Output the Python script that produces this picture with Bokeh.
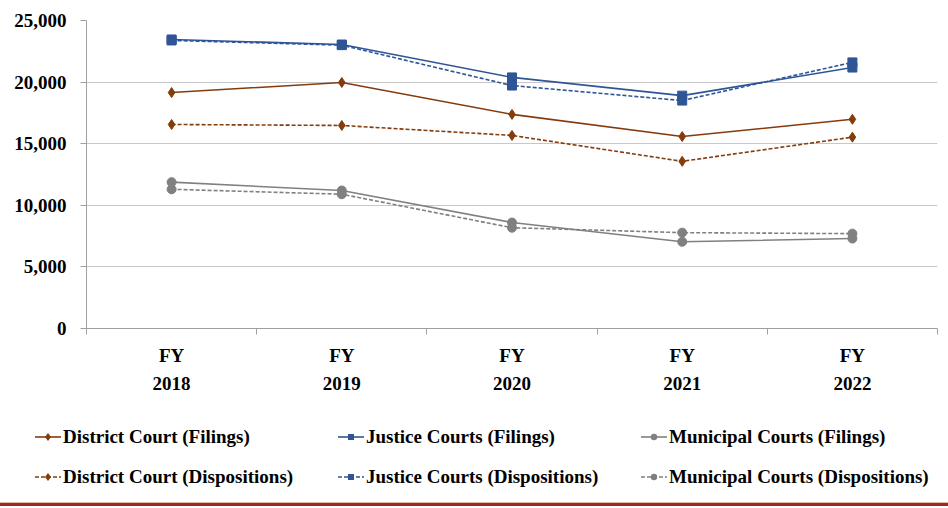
from bokeh.plotting import figure
from bokeh.models import FixedTicker, NumeralTickFormatter, Div
from bokeh.layouts import column
from bokeh.embed import file_html
from bokeh.resources import INLINE

years = ["FY\n2018", "FY\n2019", "FY\n2020", "FY\n2021", "FY\n2022"]
district_filings = [19150, 19970, 17380, 15580, 16980]
district_dispositions = [16560, 16480, 15670, 13570, 15530]
justice_filings = [23460, 23050, 20380, 18900, 21180]
justice_dispositions = [23380, 23000, 19720, 18500, 21600]
municipal_filings = [11880, 11200, 8600, 7040, 7300]
municipal_dispositions = [11300, 10900, 8180, 7780, 7700]
y_ticks = [0, 5000, 10000, 15000, 20000, 25000]

FONT = "Liberation Serif"
BROWN = "#843c0c"
BLUE = "#2f5597"
GRAY = "#808080"

x = [i + 0.5 for i in range(len(years))]

p = figure(width=948, height=410, x_range=(0, len(years)), y_range=(0, 25000),
           output_backend="svg", toolbar_location=None,
           min_border_left=86, min_border_right=11, min_border_top=20, min_border_bottom=82)
p.outline_line_color = None
p.xgrid.grid_line_color = None
p.ygrid.grid_line_color = "#c8c8c8"
p.ygrid.grid_line_width = 1

p.yaxis.ticker = FixedTicker(ticks=y_ticks)
p.yaxis.formatter = NumeralTickFormatter(format="0,0")
p.yaxis.axis_line_color = "#a0a0a0"
p.yaxis.major_tick_line_color = "#a0a0a0"
p.yaxis.major_tick_out = 6
p.yaxis.major_tick_in = 0
p.yaxis.minor_tick_line_color = None
p.yaxis.major_label_text_font = FONT
p.yaxis.major_label_text_font_style = "bold"
p.yaxis.major_label_text_font_size = "19px"
p.yaxis.major_label_text_color = "#000000"
p.yaxis.major_label_standoff = 14

p.xaxis.ticker = FixedTicker(ticks=x, minor_ticks=[float(i) for i in range(len(years) + 1)])
p.xaxis.major_label_overrides = {xv: lab for xv, lab in zip(x, years)}
p.xaxis.axis_line_color = "#a0a0a0"
p.xaxis.major_tick_line_color = None
p.xaxis.minor_tick_line_color = "#a0a0a0"
p.xaxis.minor_tick_out = 6
p.xaxis.minor_tick_in = 0
p.xaxis.major_label_text_font = FONT
p.xaxis.major_label_text_font_style = "bold"
p.xaxis.major_label_text_font_size = "19px"
p.xaxis.major_label_text_color = "#000000"
p.xaxis.major_label_text_line_height = 1.35
p.xaxis.major_label_standoff = 10

series = [
    ("District Court (Filings)", district_filings, BROWN, "diamond", "solid", 10),
    ("Justice Courts (Filings)", justice_filings, BLUE, "square", "solid", 9),
    ("Municipal Courts (Filings)", municipal_filings, GRAY, "circle", "solid", 9),
    ("District Court (Dispositions)", district_dispositions, BROWN, "diamond", "4 2", 10),
    ("Justice Courts (Dispositions)", justice_dispositions, BLUE, "square", "4 2", 9),
    ("Municipal Courts (Dispositions)", municipal_dispositions, GRAY, "circle", "4 2", 9),
]

for label, vals, color, marker, dash, size in series:
    p.line(x, vals, line_color=color, line_width=1.6, line_dash=dash)
    p.scatter(x, vals, marker=marker, size=size, fill_color=color, line_color=color)


def key_svg(color, marker, dash):
    da = "" if dash == "solid" else f' stroke-dasharray="{dash}"'
    line = f'<line x1="0" y1="10" x2="26" y2="10" stroke="{color}" stroke-width="1.6"{da}/>'
    if marker == "diamond":
        m = f'<polygon points="13,6 16,10 13,14 10,10" fill="{color}"/>'
    elif marker == "square":
        m = f'<rect x="10" y="7" width="6" height="6" fill="{color}"/>'
    else:
        m = f'<circle cx="13" cy="10" r="3.2" fill="{color}"/>'
    return f'<svg width="26" height="20" style="vertical-align:middle">{line}{m}</svg>'


rows_html = []
for r in range(2):
    cells = []
    for label, vals, color, marker, dash, size in series[r * 3:(r + 1) * 3]:
        cells.append(
            f'<span style="display:inline-block;width:303px;white-space:nowrap">'
            f'{key_svg(color, marker, dash)}<span style="vertical-align:middle;margin-left:2px">{label}</span></span>'
        )
    rows_html.append(
        f'<div style="position:absolute;left:35px;top:{5 + 40 * r}px;height:40px;line-height:40px;width:913px;white-space:nowrap">'
        + "".join(cells) + '</div>'
    )

legend_html = (
    f'<div style="position:relative;width:948px;height:96px;font-family:\'{FONT}\';font-weight:bold;'
    f'font-size:19px;color:#000">'
    + "".join(rows_html)
    + '<div style="position:absolute;left:0;top:92px;width:948px;height:1px;background:#e2b9b0"></div>'
    + '<div style="position:absolute;left:0;top:93px;width:948px;height:3px;background:#9b2b1c"></div>'
    + '</div>'
)

legend_div = Div(text=legend_html, width=948, height=96, margin=0)

layout = column(p, legend_div, spacing=0)
open("out.html", "w").write(file_html(layout, INLINE))
